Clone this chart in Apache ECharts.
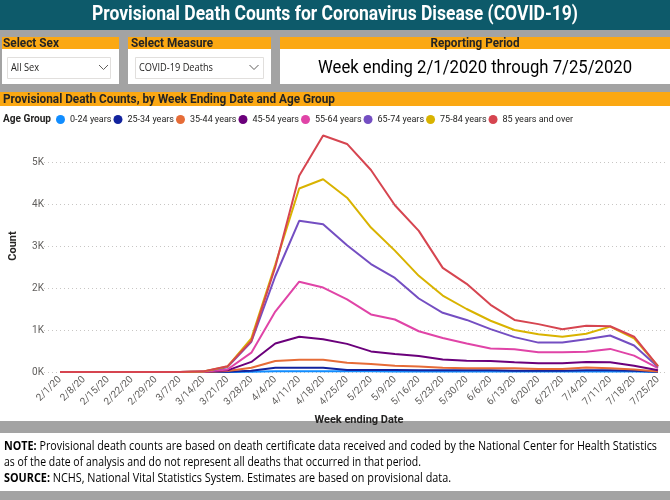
<!DOCTYPE html>
<html>
<head>
<meta charset="utf-8">
<script src="https://cdn.jsdelivr.net/npm/echarts@6/dist/echarts.min.js"></script>
<style>
html,body{margin:0;padding:0;background:#a3a3a3;}
#c{width:670px;height:500px;}
</style>
</head>
<body>
<div id="c"></div>
<script>
var weeks = ['2/1/20','2/8/20','2/15/20','2/22/20','2/29/20','3/7/20','3/14/20','3/21/20','3/28/20','4/4/20','4/11/20','4/18/20','4/25/20','5/2/20','5/9/20','5/16/20','5/23/20','5/30/20','6/6/20','6/13/20','6/20/20','6/27/20','7/4/20','7/11/20','7/18/20','7/25/20'];
var ageGroups = ['0-24 years','25-34 years','35-44 years','45-54 years','55-64 years','65-74 years','75-84 years','85 years and over'];
var age0_24  = [0,0,0,0,0,0,0,2,5,15,18,18,15,15,13,12,12,12,12,10,10,10,12,12,10,2];
var age25_34 = [0,0,0,0,0,0,0,8,30,100,100,100,50,50,50,40,40,40,40,30,30,30,40,40,30,5];
var age35_44 = [0,0,0,0,0,0,1,25,100,260,290,290,220,190,150,130,100,90,90,90,70,70,110,90,60,10];
var age45_54 = [0,0,0,0,0,0,3,40,240,680,840,780,670,490,430,380,300,270,260,230,210,210,240,230,150,40];
var age55_64 = [0,0,0,0,0,0,5,60,460,1440,2150,2010,1730,1370,1250,970,810,680,560,540,470,470,480,550,390,90];
var age65_74 = [0,0,0,0,0,1,10,115,720,2280,3600,3520,3020,2570,2240,1750,1410,1240,1020,830,700,700,780,870,630,120];
var age75_84 = [0,0,0,0,0,1,12,130,800,2560,4370,4590,4150,3440,2890,2290,1820,1500,1220,1000,900,840,910,1080,800,140];
var age85up  = [0,0,0,0,0,1,15,135,740,2500,4670,5630,5430,4810,3970,3360,2480,2100,1600,1240,1140,1020,1100,1090,840,140];
var yTicks = [0,1000,2000,3000,4000,5000];
var colors = ['#118DFF','#12239E','#E66C37','#6B007B','#E044A7','#744EC2','#D9B300','#D64550'];

var seriesData = [age0_24,age25_34,age35_44,age45_54,age55_64,age65_74,age75_84,age85up];
var DIN = 'Roboto, "Liberation Sans", sans-serif';
var SEGOE = '"Open Sans", "Noto Sans", sans-serif';
var ORANGE = '#FBA813';
var TEAL = '#0D5A6A';

var mctx = document.createElement('canvas').getContext('2d');
function measure(t, font){ mctx.font = font; return mctx.measureText(t).width; }

var chart = echarts.init(document.getElementById('c'), null, {renderer:'canvas'});

function rect(x,y,w,h,fill,stroke){
  return {type:'rect', shape:{x:x,y:y,width:w,height:h}, style:{fill:fill, stroke:stroke||null, lineWidth:stroke?1:0}, silent:true, z:-10};
}
function ftxt(x,y,t,font,target,opt){
  var s = target ? target/measure(t,font) : 1;
  return {type:'text', x:x, y:y, scaleX:s, silent:true, z:10,
    style:Object.assign({text:t, fill:'#252423', font:font, textVerticalAlign:'middle', textAlign:'left'}, opt||{})};
}
function richTxt(x,y,boldPart,rest,size,target){
  var f = size+'px '+SEGOE, fb = 'bold '+size+'px '+SEGOE;
  var w = measure(boldPart,fb) + measure(rest,f);
  return {type:'text', x:x, y:y, scaleX:target/w, silent:true, z:10,
    style:{text:'{b|'+boldPart+'}'+rest, font:f, fill:'#000', textVerticalAlign:'middle',
      rich:{b:{font:fb, fill:'#000'}}}};
}
function chevron(x,y){
  return {type:'polyline', shape:{points:[[x-4.5,y-2.5],[x,y+2],[x+4.5,y-2.5]]}, style:{stroke:'#605e5c', lineWidth:1, fill:null}, silent:true, z:10};
}

var graphics = [
  rect(0,0,670,30,TEAL),
  ftxt(335,15,'Provisional Death Counts for Coronavirus Disease (COVID-19)','bold 20px '+DIN,486,{fill:'#ffffff', textAlign:'center'}),
  rect(2,37,117,47,'#ffffff'),
  rect(2,37,117,12,ORANGE),
  ftxt(3,43.5,'Select Sex','bold 13px '+DIN,56),
  rect(7.5,57.5,103,21,'#ffffff','#e1dfdd'),
  ftxt(11,68,'All Sex','10px '+SEGOE,28,{fill:'#252423'}),
  chevron(103.5,67.5),
  rect(128,37,143,47,'#ffffff'),
  rect(128,37,143,12,ORANGE),
  ftxt(131,43.5,'Select Measure','bold 13px '+DIN,82),
  rect(135.5,57.5,128,21,'#ffffff','#e1dfdd'),
  ftxt(139,68,'COVID-19 Deaths','10px '+SEGOE,74,{fill:'#252423'}),
  chevron(254,67.5),
  rect(280,37,390,47,'#ffffff'),
  rect(280,37,390,12,ORANGE),
  ftxt(475,43.5,'Reporting Period','bold 13px '+DIN,89,{textAlign:'center'}),
  ftxt(475,68,'Week ending 2/1/2020 through 7/25/2020','19px '+DIN,314,{fill:'#000000', textAlign:'center'}),
  rect(0,92,670,329,'#ffffff'),
  rect(0,92,670,14,ORANGE),
  ftxt(3,99.5,'Provisional Death Counts, by Week Ending Date and Age Group','bold 13px '+DIN,332),
  ftxt(3,119.5,'Age Group','bold 11px '+DIN,48),
  rect(0,433,670,58,'#ffffff'),
  richTxt(4,447,'NOTE:',' Provisional death counts are based on death certificate data received and coded by the National Center for Health Statistics',12,653),
  ftxt(4,463,'as of the date of analysis and do not represent all deaths that occurred in that period.','12px '+SEGOE,417,{fill:'#000'}),
  richTxt(4,479,'SOURCE:',' NCHS, National Vital Statistics System. Estimates are based on provisional data.',12,447)
];

var series = ageGroups.map(function(name,i){
  return {
    name:name, type:'line', xAxisIndex:0, yAxisIndex:0,
    data: seriesData[i], showSymbol:false, symbol:'none',
    lineStyle:{width:2, color:colors[i]}, itemStyle:{color:colors[i]},
    emphasis:{disabled:true}, z:2+i
  };
});

chart.setOption({
  animation:false,
  backgroundColor:'#a3a3a3',
  color:colors,
  graphic:{elements:graphics},
  legend:{
    data:ageGroups, left:56, top:115, padding:0, width:612, icon:'circle', itemWidth:9, itemHeight:9, itemGap:2,
    textStyle:{fontSize:9, color:'#252423', fontFamily:DIN}, selectedMode:false
  },
  grid:[
    {left:52, right:12, top:120, bottom:128, containLabel:false},
    {left:44, right:3, top:120, bottom:128, containLabel:false}
  ],
  xAxis:[
    {type:'category', gridIndex:0, data:weeks, boundaryGap:false,
     axisLine:{show:false}, axisTick:{show:false},
     axisLabel:{rotate:45, fontSize:10, color:'#605e5c', fontFamily:DIN, margin:6, interval:0},
     name:'Week ending Date', nameLocation:'middle', nameGap:40,
     nameTextStyle:{fontSize:11, fontWeight:'bold', color:'#252423', fontFamily:DIN}},
    {type:'value', gridIndex:1, min:0, max:1, show:false}
  ],
  yAxis:[
    {type:'value', gridIndex:0, min:0, max:6000, interval:1000,
     axisLine:{show:false}, axisTick:{show:false}, splitLine:{show:false},
     axisLabel:{fontSize:10, color:'#605e5c', fontFamily:DIN, margin:16, showMaxLabel:false,
       formatter:function(v){ return yTicks.indexOf(v)>=0 ? (v/1000)+'K' : ''; }},
     name:'Count', nameLocation:'middle', nameGap:41,
     nameTextStyle:{fontSize:11, fontWeight:'bold', color:'#252423', fontFamily:DIN}},
    {type:'value', gridIndex:1, min:0, max:6000, interval:1000,
     axisLine:{show:false}, axisTick:{show:false}, axisLabel:{show:false},
     splitLine:{show:true, showMaxLine:false, lineStyle:{color:'#c8c6c4', type:[1,3], width:1}}}
  ],
  series:series
});
</script>
</body>
</html>
